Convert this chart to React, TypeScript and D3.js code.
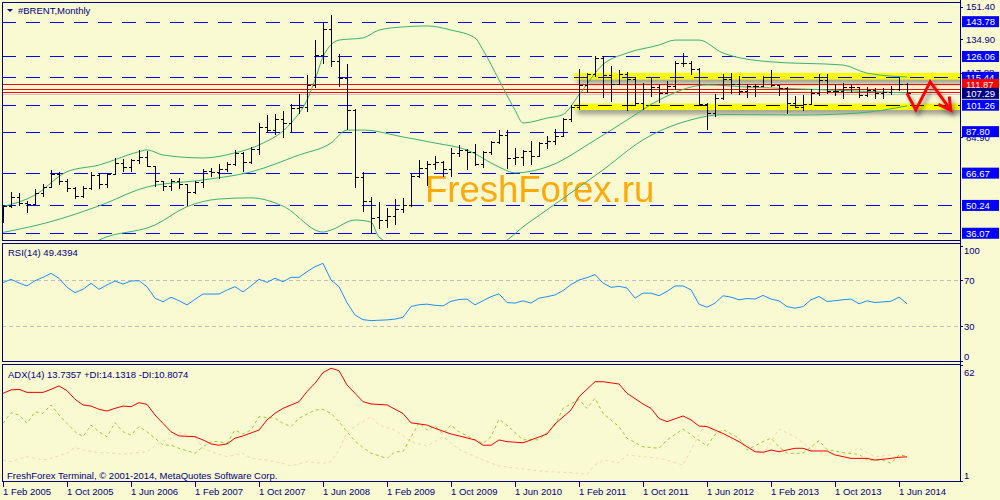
import React from 'react';
import * as d3 from 'd3';

// ---------- DATA ----------
const xTickLabels = ['1 Feb 2005', '1 Oct 2005', '1 Jun 2006', '1 Feb 2007', '1 Oct 2007', '1 Jun 2008', '1 Feb 2009', '1 Oct 2009', '1 Jun 2010', '1 Feb 2011', '1 Oct 2011', '1 Jun 2012', '1 Feb 2013', '1 Oct 2013', '1 Jun 2014'];
const xTickBars = [0, 8, 16, 24, 32, 40, 48, 56, 64, 72, 80, 88, 96, 104, 112];

// Monthly OHLC, Feb 2005 .. Jul 2014
const opens = [44.0, 50.0, 54.5, 51.5, 51.0, 56.5, 59.5, 66.0, 62.5, 59.0, 54.8, 59.0, 65.5, 61.0, 66.0, 72.0, 70.0, 73.5, 75.0, 70.3, 62.5, 60.0, 62.8, 61.0, 57.0, 62.0, 68.0, 67.5, 68.8, 71.4, 77.0, 72.5, 79.0, 90.0, 88.5, 94.0, 92.0, 100.0, 100.5, 111.5, 127.0, 139.8, 124.0, 115.0, 99.0, 64.5, 52.5, 44.5, 43.0, 45.0, 48.5, 50.5, 65.0, 69.5, 71.5, 72.5, 69.0, 77.0, 78.5, 77.5, 71.5, 77.5, 82.5, 86.0, 74.5, 75.0, 78.0, 75.5, 82.0, 83.0, 85.5, 94.0, 100.5, 111.5, 117.0, 125.5, 116.5, 112.0, 117.0, 114.5, 102.5, 109.5, 110.5, 107.5, 111.0, 122.5, 122.5, 119.5, 102.0, 97.5, 105.0, 114.5, 112.0, 108.5, 111.0, 111.0, 115.5, 111.5, 110.0, 102.5, 100.5, 102.0, 107.5, 114.0, 108.5, 108.5, 110.5, 110.5, 106.5, 109.0, 107.5, 108.0, 109.5, 112.0];
const highs = [50.6, 57.0, 56.5, 52.5, 58.5, 61.0, 68.3, 67.5, 63.5, 59.5, 60.0, 67.0, 66.5, 66.5, 74.5, 74.0, 73.8, 78.3, 78.0, 70.5, 62.8, 63.5, 64.0, 61.0, 62.5, 69.0, 69.5, 71.5, 72.3, 78.4, 77.5, 80.0, 92.0, 96.5, 97.0, 98.5, 102.0, 107.0, 116.5, 134.5, 143.5, 147.3, 127.5, 122.0, 99.5, 67.0, 54.5, 52.0, 49.0, 53.5, 54.0, 66.0, 73.5, 73.0, 75.5, 73.0, 79.5, 81.0, 79.0, 81.5, 78.0, 83.0, 88.5, 88.5, 79.5, 78.5, 83.0, 82.5, 85.5, 89.0, 94.5, 101.5, 119.5, 117.5, 126.5, 126.5, 121.0, 119.0, 118.0, 115.5, 112.5, 115.0, 112.0, 113.5, 124.0, 128.0, 124.0, 120.0, 102.5, 107.0, 117.0, 117.5, 116.0, 112.0, 112.0, 116.0, 119.0, 111.5, 110.5, 106.0, 106.5, 109.5, 117.0, 117.0, 112.0, 112.5, 112.0, 110.5, 110.5, 110.0, 110.0, 111.0, 115.5, 112.5];
const lows = [41.5, 49.0, 50.0, 46.5, 50.8, 54.5, 59.0, 60.5, 57.0, 53.5, 54.0, 58.0, 58.5, 59.0, 65.5, 67.5, 67.5, 71.5, 70.0, 59.5, 57.5, 57.8, 58.5, 50.0, 56.0, 59.0, 64.5, 63.5, 67.5, 70.5, 67.0, 71.5, 76.0, 87.0, 86.0, 84.5, 87.5, 97.0, 98.0, 110.0, 122.0, 120.5, 110.5, 88.5, 59.0, 47.0, 36.0, 38.0, 38.5, 40.5, 46.5, 49.5, 64.0, 60.0, 68.5, 64.5, 64.5, 75.0, 68.5, 70.5, 69.5, 76.0, 81.5, 69.0, 71.0, 70.5, 71.0, 75.0, 79.0, 81.0, 85.0, 92.5, 99.0, 107.5, 115.5, 105.0, 103.0, 111.5, 98.5, 101.5, 99.0, 105.5, 102.5, 107.0, 109.0, 120.5, 116.5, 101.5, 88.5, 95.0, 104.0, 107.0, 106.5, 105.0, 105.5, 110.5, 110.5, 106.0, 96.8, 100.0, 98.5, 102.0, 106.0, 107.0, 106.0, 104.5, 107.5, 105.0, 105.5, 104.5, 104.5, 106.5, 108.5, 106.5];
const closes = [50.0, 54.5, 51.5, 51.0, 56.5, 59.5, 66.0, 62.5, 59.0, 54.8, 59.0, 65.5, 61.0, 66.0, 72.0, 70.0, 73.5, 75.0, 70.3, 62.5, 60.0, 62.8, 61.0, 57.0, 62.0, 68.0, 67.5, 68.8, 71.4, 77.0, 72.5, 79.0, 90.0, 88.5, 94.0, 92.0, 100.0, 100.5, 111.5, 127.0, 139.8, 124.0, 115.0, 99.0, 64.5, 52.5, 44.0, 43.0, 45.0, 48.5, 50.5, 65.0, 69.5, 71.5, 72.5, 69.0, 77.0, 78.5, 77.5, 71.5, 77.5, 82.5, 86.0, 74.5, 75.0, 78.0, 75.5, 82.0, 83.0, 85.5, 94.0, 100.5, 111.5, 117.0, 125.5, 116.5, 112.0, 117.0, 114.5, 102.5, 109.5, 110.5, 107.5, 111.0, 122.5, 122.5, 119.5, 102.0, 97.5, 105.0, 114.5, 112.0, 108.5, 111.0, 111.0, 115.5, 111.5, 110.0, 102.5, 100.5, 102.0, 107.5, 114.0, 108.5, 108.5, 110.5, 110.5, 106.5, 109.0, 107.5, 108.0, 109.5, 112.0, 107.3];

// Bollinger bands: [bar, price]
const bbUpper: [number, number][] = [[0, 49.6], [4, 55.5], [8, 67.4], [12, 70.8], [17, 77.6], [18, 78.5], [20, 75.9], [25, 74.4], [29, 77], [32, 81], [36, 92.2], [38, 103.9], [39, 114.1], [40, 125.8], [42, 134.4], [45, 135.5], [47, 139.5], [50, 141.1], [53, 141.6], [56, 139.5], [59, 135.5], [60, 129.4], [62, 114.1], [64, 98.8], [65, 92.2], [68, 94.7], [70, 96.5], [72, 106.5], [75, 122.0], [78, 127.8], [82, 131.9], [84, 134.4], [87, 134.4], [90, 127.8], [96, 123.3], [105, 121.7], [108, 117.6], [113, 115.6]];
const bbMiddle: [number, number][] = [[0, 36.5], [6, 42], [12, 50], [18, 59.6], [25, 63.2], [31, 67.3], [37, 75.9], [41, 82.0], [43, 88.6], [45, 88.6], [50, 85.1], [54, 82.0], [58, 78.5], [62, 69.8], [64, 66.8], [68, 69.8], [74, 83.5], [78, 93.7], [82, 103.9], [88, 111.6], [93, 110.5], [100, 109.5], [113, 107.5]];
const bbLower: [number, number][] = [[10, 28], [12, 32.6], [19, 40.3], [23, 49.6], [27, 53.5], [31, 54.1], [35, 49.9], [40, 36.7], [41, 37.7], [44, 42.8], [46, 41.8], [47, 34.1], [52, 26], [58, 25], [63, 32.6], [65, 39.3], [68, 48], [75, 68.3], [80, 83.6], [86, 93.8], [90, 96.5], [100, 96.3], [107, 97.3], [113, 100.9]];

// RSI(14), one value per bar
const rsi = [67.7, 70.6, 67.4, 64.8, 69.4, 72.3, 75.8, 71.5, 63.7, 59.0, 61.9, 67.1, 61.9, 65.7, 69.1, 66.5, 69.1, 69.4, 64.2, 54.1, 51.1, 55.0, 52.0, 48.3, 53.2, 57.8, 57.8, 57.8, 61.3, 64.2, 59.6, 64.8, 70.6, 68.0, 71.5, 68.5, 72.3, 72.3, 77.2, 81.6, 84.5, 70.0, 64.2, 50.3, 39.6, 35.5, 34.7, 35.0, 35.3, 36.0, 37.6, 46.9, 48.5, 49.0, 48.0, 47.5, 51.5, 53.0, 53.4, 48.4, 52.0, 55.5, 58.0, 50.4, 49.9, 51.9, 49.9, 54.2, 55.5, 57.0, 60.8, 66.0, 70.0, 72.0, 74.7, 67.4, 63.6, 64.5, 63.0, 54.2, 58.6, 58.6, 56.3, 60.1, 64.8, 64.8, 61.5, 49.0, 46.3, 49.9, 56.3, 55.1, 52.8, 53.9, 53.4, 56.6, 53.4, 51.9, 46.9, 45.5, 46.9, 52.8, 55.7, 51.3, 52.0, 52.8, 53.4, 49.3, 51.9, 50.4, 51.0, 51.5, 55.1, 49.4];

// ADX(14), +DI, -DI: [bar, value]
const adx: [number, number][] = [[0, 47.1], [1, 48.9], [2, 49.2], [3, 47.6], [5, 47.6], [6, 49.2], [7, 51], [8, 48.5], [9, 44], [10, 41], [11, 40.4], [12, 38.7], [13, 37.8], [14, 39.2], [15, 40.4], [16, 40.1], [17, 42.2], [18, 41.3], [19, 35.7], [20, 31.3], [21, 26.9], [22, 24.7], [24, 24.3], [25, 22.6], [26, 20.5], [27, 19.8], [28, 20.5], [29, 23.5], [30, 24.7], [32, 27.8], [33, 33.1], [34, 36.6], [35, 39.2], [37, 42.7], [38, 48], [39, 52.4], [40, 58], [41, 60.3], [42, 59], [43, 51.5], [45, 42.7], [46, 41.5], [48, 41], [50, 36.5], [51, 31.6], [53, 30.4], [54, 28.7], [56, 25.7], [57, 24.7], [59, 22.6], [60, 19.8], [61, 19.8], [62, 22.6], [63, 21.7], [65, 21.1], [66, 22.6], [68, 25.7], [69, 31], [71, 38.3], [72, 45.3], [74, 53.2], [75, 53.2], [77, 52], [78, 47.1], [80, 41.5], [81, 39.2], [82, 33.9], [83, 32.2], [85, 35.2], [86, 33.1], [87, 29.9], [88, 29.6], [90, 26], [92, 21.7], [94, 16.4], [95, 16.1], [96, 17.3], [97, 16.4], [99, 18.2], [100, 18.2], [101, 16.8], [103, 16.8], [104, 14.7], [106, 12.9], [108, 12.9], [109, 12], [111, 12.9], [112, 13.5], [113, 13.7]];
const plusDI: [number, number][] = [[0, 31.3], [1, 36.9], [2, 35.7], [3, 31.3], [4, 37.4], [5, 36.6], [6, 41], [7, 35.7], [8, 31.3], [9, 26.9], [10, 24.3], [11, 30.4], [12, 26.9], [13, 24.3], [14, 31.7], [15, 26.9], [16, 25.2], [17, 29.6], [18, 26.9], [19, 23.5], [20, 19.9], [21, 19.9], [22, 18.2], [24, 15.6], [25, 19], [26, 21.7], [27, 21.7], [28, 20.8], [29, 27.8], [30, 25.7], [31, 27.8], [32, 34.8], [34, 34], [35, 31.3], [36, 29.6], [37, 34], [39, 38.3], [40, 38.7], [41, 36.6], [42, 32.2], [43, 26.9], [44, 22], [45, 18.7], [46, 15.6], [48, 12.9], [49, 16.4], [50, 16.4], [52, 31.6], [53, 27.8], [54, 29.9], [55, 26], [56, 30.4], [57, 26.9], [59, 22.6], [60, 20.8], [61, 24.3], [62, 33.4], [63, 30.4], [65, 22.6], [66, 22.9], [67, 22.6], [69, 30.4], [70, 39.2], [72, 43.9], [73, 39.2], [74, 44.5], [75, 36.5], [77, 29.6], [78, 23.5], [80, 19], [82, 18.2], [83, 22.6], [85, 28.3], [86, 25.4], [88, 19.4], [89, 25.4], [90, 28], [92, 23.6], [93, 17.3], [95, 21.7], [96, 23.5], [97, 19], [98, 15.6], [100, 15.6], [102, 22.2], [103, 17.6], [105, 15.9], [107, 15], [108, 12], [110, 12], [111, 10.3], [112, 14.7], [113, 14.1]];
const minusDI: [number, number][] = [[0, 12], [1, 11.2], [3, 13.8], [5, 12], [6, 12.9], [8, 15.6], [9, 18.7], [10, 17.3], [12, 15.9], [13, 15.9], [15, 15], [16, 15.6], [18, 16.4], [20, 22.2], [21, 23.5], [22, 26.4], [24, 24.3], [25, 18.2], [26, 16.4], [28, 13.8], [30, 15.6], [31, 12.9], [33, 12], [35, 10.3], [36, 8.9], [38, 11.2], [40, 10.3], [41, 11.2], [42, 17.3], [43, 26.9], [44, 29.6], [46, 34.8], [47, 30.4], [49, 27.8], [51, 21.7], [53, 19.4], [55, 24.3], [57, 17.6], [60, 12], [62, 8.9], [66, 6.8], [68, 5.9], [71, 5.4], [73, 4.5], [74, 9.4], [75, 12], [77, 10.6], [78, 14.7], [80, 13.8], [82, 12.9], [83, 12], [85, 9.4], [86, 17.3], [87, 25.4], [88, 32.2], [89, 26.9], [91, 22.9], [93, 19.9], [95, 14.7], [97, 28.3], [99, 24.3], [101, 17.6], [103, 14.7], [105, 14.7], [107, 18.2], [109, 13.8], [111, 14.7], [113, 10.8]];

// Price axis
const priceTicks = [151.40, 134.90, 117.88, 84.90];
const levelLines = [143.78, 126.06, 115.44, 101.26, 87.80, 66.67, 50.24, 36.07];
const redLines = [111.87, 109.40, 108.15];
const bidPrice = 107.29;
const bandPrices = [116.2, 100.6];
const bandStartBar = 71.4;
const arrowPoints: [number, number][] = [[113, 107.3], [114.1, 98.8], [115.9, 113.1], [118.5, 98.6]];
const rsiTicks = [100, 70, 30, 0];
const rsiLevels = [70, 30];
const adxTicks = [62, 1];

const FONT = "'Liberation Sans', Arial, sans-serif";
const NAVY = '#000080';
const BG = '#F9F9D2';

export default function App() {
  const x = d3.scaleLinear().domain([0, 113]).range([3, 907]);
  const yP = d3.scaleLinear().domain([32.64, 153.79]).range([240, 2]);
  const yR = d3.scaleLinear().domain([0, 100]).range([360.5, 245.5]);
  const yA = d3.scaleLinear().domain([1, 62]).range([481, 365]);

  const bandLine = d3.line<[number, number]>().x(d => x(d[0])).y(d => yP(d[1])).curve(d3.curveMonotoneX);
  const rsiLine = d3.line<number>().x((_, i) => x(i)).y(d => yR(d));
  const adxLine = d3.line<[number, number]>().x(d => x(d[0])).y(d => yA(d[1]));
  const arrowLine = d3.line<[number, number]>().x(d => x(d[0])).y(d => yP(d[1]));

  const px = (v: number) => Math.round(v) + 0.5;
  const R = 960;

  const ap = arrowPoints.map(d => [x(d[0]), yP(d[1])]);
  const tip = ap[ap.length - 1];
  const prev = ap[ap.length - 2];
  const ang = Math.atan2(tip[1] - prev[1], tip[0] - prev[0]);
  const hl = 14;
  const b1 = [tip[0] - hl * Math.cos(ang - 0.5), tip[1] - hl * Math.sin(ang - 0.5)];
  const b2 = [tip[0] - hl * Math.cos(ang + 0.5), tip[1] - hl * Math.sin(ang + 0.5)];

  const boxes = [
    ...levelLines.map(v => ({ v, fill: '#0000FF' })),
    { v: redLines[0], fill: '#FF0000' },
    { v: bidPrice, fill: NAVY },
  ];

  return (
    <svg width={1000} height={500} style={{ position: 'absolute', left: 0, top: 0, background: BG }} fontFamily={FONT}>
      <defs>
        <clipPath id="cMain"><rect x={2} y={2} width={R - 2} height={238} /></clipPath>
        <clipPath id="cRsi"><rect x={2} y={244} width={R - 2} height={117} /></clipPath>
        <clipPath id="cAdx"><rect x={2} y={365} width={R - 2} height={116} /></clipPath>
        <filter id="shadow" x="-10%" y="-100%" width="130%" height="400%">
          <feDropShadow dx={3} dy={4} stdDeviation={2.5} floodColor="#555" floodOpacity={0.6} />
        </filter>
        <filter id="ashadow" x="-50%" y="-50%" width="200%" height="200%">
          <feDropShadow dx={3} dy={4} stdDeviation={2} floodColor="#444" floodOpacity={0.55} />
        </filter>
      </defs>
      <rect x={0} y={0} width={1000} height={500} fill={BG} />

      {/* ---- MAIN PANEL ---- */}
      <g clipPath="url(#cMain)">
        <text x={425} y={202} fontSize={36.5} fill="#FFA500" fontFamily={FONT} style={{ opacity: 0.95 }}>FreshForex.ru</text>
        {levelLines.map(v => (
          <line key={'l' + v} x1={2} x2={R} y1={px(yP(v))} y2={px(yP(v))} stroke="#0000FF" strokeDasharray="14,10" shapeRendering="crispEdges" />
        ))}
        <line x1={2} x2={R} y1={px(yP(bidPrice)) + 1} y2={px(yP(bidPrice)) + 1} stroke="#C8C8C8" shapeRendering="crispEdges" />
        {bandPrices.map(v => (
          <rect key={'b' + v} x={x(bandStartBar)} y={yP(v) - 3} width={R - x(bandStartBar) + 40} height={6.5} fill="#FFFF00" filter="url(#shadow)" />
        ))}
        <line x1={x(bandStartBar)} x2={R} y1={px(yP(levelLines[2]))} y2={px(yP(levelLines[2]))} stroke="#0000FF" strokeDasharray="14,10" shapeRendering="crispEdges" />
        <line x1={x(bandStartBar)} x2={R} y1={px(yP(levelLines[3]))} y2={px(yP(levelLines[3]))} stroke="#000000" strokeDasharray="14,10" shapeRendering="crispEdges" />
        {redLines.map(v => (
          <line key={'r' + v} x1={2} x2={R} y1={px(yP(v))} y2={px(yP(v))} stroke="#FF0000" shapeRendering="crispEdges" />
        ))}
        <path d={bandLine(bbUpper) || ''} fill="none" stroke="#3CB371" strokeWidth={1} />
        <path d={bandLine(bbMiddle) || ''} fill="none" stroke="#3CB371" strokeWidth={1} />
        <path d={bandLine(bbLower) || ''} fill="none" stroke="#3CB371" strokeWidth={1} />
        <g stroke="#000000" shapeRendering="crispEdges">
          {closes.map((c, i) => {
            const cx = px(x(i));
            return (
              <g key={'bar' + i}>
                <line x1={cx} x2={cx} y1={yP(highs[i])} y2={yP(lows[i])} />
                <line x1={cx - 3} x2={cx} y1={px(yP(opens[i]))} y2={px(yP(opens[i]))} />
                <line x1={cx} x2={cx + 3} y1={px(yP(c))} y2={px(yP(c))} />
              </g>
            );
          })}
        </g>
        <g filter="url(#ashadow)">
          <path d={arrowLine(arrowPoints) || ''} fill="none" stroke="#FF0000" strokeWidth={3} strokeLinejoin="miter" />
          <path d={`M${b1[0]},${b1[1]}L${tip[0]},${tip[1]}L${b2[0]},${b2[1]}`} fill="none" stroke="#FF0000" strokeWidth={3} />
        </g>
      </g>
      <path d="M7,9 h6 l-3,3 z" fill={NAVY} />
      <text x={18} y={14} fontSize={9.5} fill={NAVY}>#BRENT,Monthly</text>

      {priceTicks.map(v => (
        <g key={'pt' + v}>
          <line x1={R} x2={R + 3} y1={px(yP(v))} y2={px(yP(v))} stroke={NAVY} />
          <text x={966} y={yP(v) + 3.5} fontSize={9.5} fill={NAVY}>{v.toFixed(2)}</text>
        </g>
      ))}
      {boxes.map(b => (
        <g key={'bx' + b.v}>
          <rect x={962} y={yP(b.v) - 5.5} width={37} height={11} fill={b.fill} />
          <text x={966} y={yP(b.v) + 3.5} fontSize={9.5} fill="#FFFFFF">{b.v.toFixed(2)}</text>
        </g>
      ))}

      {/* ---- RSI PANEL ---- */}
      <g clipPath="url(#cRsi)">
        {rsiLevels.map(v => (
          <line key={'rl' + v} x1={2} x2={R} y1={px(yR(v))} y2={px(yR(v))} stroke="#C0C0C0" strokeDasharray="4,3" shapeRendering="crispEdges" />
        ))}
        <path d={rsiLine(rsi) || ''} fill="none" stroke="#1E90FF" strokeWidth={1} />
      </g>
      <text x={8} y={256} fontSize={9.5} fill={NAVY}>RSI(14) 49.4394</text>
      {rsiTicks.map(v => {
        const yy = Math.min(Math.max(yR(v), 250), 356);
        return (
          <g key={'rt' + v}>
            <line x1={R} x2={R + 3} y1={px(yR(v))} y2={px(yR(v))} stroke={NAVY} />
            <text x={964} y={yy + 3.5} fontSize={9.5} fill={NAVY}>{v}</text>
          </g>
        );
      })}

      {/* ---- ADX PANEL ---- */}
      <g clipPath="url(#cAdx)">
        <path d={adxLine(minusDI) || ''} fill="none" stroke="#F5D7B0" strokeWidth={1} strokeDasharray="3,3" />
        <path d={adxLine(plusDI) || ''} fill="none" stroke="#9ACD32" strokeWidth={1} strokeDasharray="3,3" />
        <path d={adxLine(adx) || ''} fill="none" stroke="#FF0000" strokeWidth={1} />
      </g>
      <text x={8} y={378} fontSize={9.5} fill={NAVY}>ADX(14) 13.7357 +DI:14.1318 -DI:10.8074</text>
      <text x={7} y={479} fontSize={9.5} fill={NAVY}>FreshForex Terminal, © 2001-2014, MetaQuotes Software Corp.</text>
      {adxTicks.map(v => {
        const yy = Math.min(Math.max(yA(v), 372), 475);
        return (
          <g key={'at' + v}>
            <line x1={R} x2={R + 3} y1={px(yA(v))} y2={px(yA(v))} stroke={NAVY} />
            <text x={964} y={yy + 3.5} fontSize={9.5} fill={NAVY}>{v}</text>
          </g>
        );
      })}

      {/* ---- FRAMES ---- */}
      <g fill="none" stroke={NAVY} shapeRendering="crispEdges">
        <rect x={2.5} y={2.5} width={R - 2.5} height={238} />
        <rect x={2.5} y={243.5} width={R - 2.5} height={118} />
        <rect x={2.5} y={364.5} width={R - 2.5} height={117} />
        <line x1={R + 0.5} x2={R + 0.5} y1={0} y2={482} />
      </g>

      {/* ---- TIME AXIS ---- */}
      {xTickBars.map((b, k) => (
        <g key={'xt' + b}>
          <line x1={px(x(b))} x2={px(x(b))} y1={482} y2={487} stroke={NAVY} shapeRendering="crispEdges" />
          <text x={x(b)} y={495} fontSize={9.5} fill={NAVY}>{xTickLabels[k]}</text>
        </g>
      ))}
    </svg>
  );
}
